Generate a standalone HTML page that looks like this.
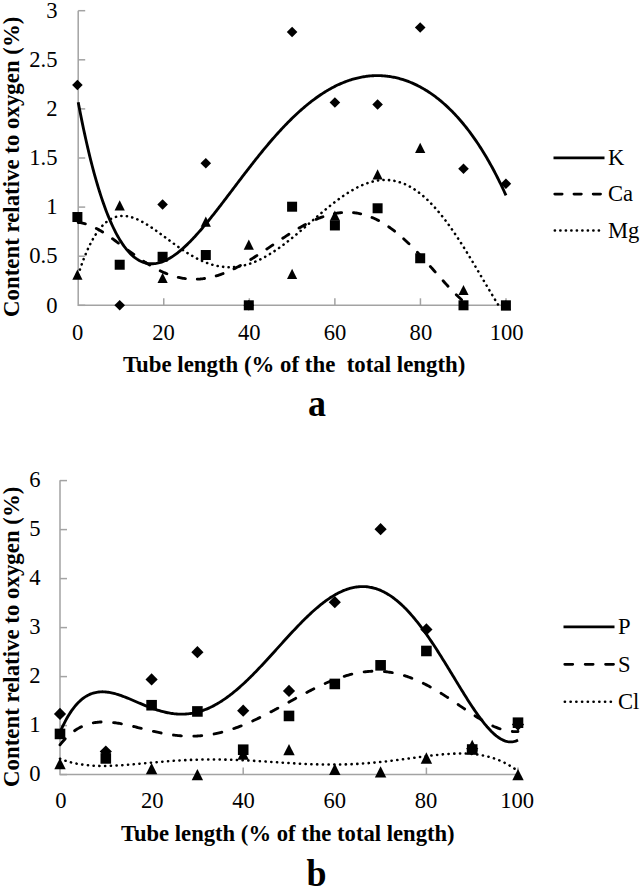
<!DOCTYPE html><html><head><meta charset="utf-8"><style>html,body{margin:0;padding:0;background:#fff;}svg{display:block}</style></head><body><svg width="641" height="888" viewBox="0 0 641 888">
<rect width="641" height="888" fill="#fff"/>
<g stroke="#a3a3a3" stroke-width="1.5" fill="none">
<path d="M78.20,10.70 V305.30 H506.00"/>
<path d="M78.20,305.30 h7"/>
<path d="M78.20,256.20 h7"/>
<path d="M78.20,207.10 h7"/>
<path d="M78.20,158.00 h7"/>
<path d="M78.20,108.90 h7"/>
<path d="M78.20,59.80 h7"/>
<path d="M78.20,10.70 h7"/>
<path d="M163.76,305.30 v-7"/>
<path d="M249.32,305.30 v-7"/>
<path d="M334.88,305.30 v-7"/>
<path d="M420.44,305.30 v-7"/>
<path d="M506.00,305.30 v-7"/>
</g>
<g font-family="Liberation Serif, serif" font-size="22.6" fill="#000">
<text x="57.5" y="312.50" text-anchor="end">0</text>
<text x="57.5" y="263.40" text-anchor="end">0.5</text>
<text x="57.5" y="214.30" text-anchor="end">1</text>
<text x="57.5" y="165.20" text-anchor="end">1.5</text>
<text x="57.5" y="116.10" text-anchor="end">2</text>
<text x="57.5" y="67.00" text-anchor="end">2.5</text>
<text x="57.5" y="17.90" text-anchor="end">3</text>
<text x="77.70" y="340" text-anchor="middle">0</text>
<text x="163.50" y="340" text-anchor="middle">20</text>
<text x="249.30" y="340" text-anchor="middle">40</text>
<text x="335.10" y="340" text-anchor="middle">60</text>
<text x="420.90" y="340" text-anchor="middle">80</text>
<text x="506.70" y="340" text-anchor="middle">100</text>
</g>
<text x="122.9" y="371.8" font-family="Liberation Serif, serif" font-weight="bold" font-size="22.85" style="white-space:pre" xml:space="preserve">Tube length (% of the  total length)</text>
<text transform="translate(19.1,166.8) rotate(-90)" text-anchor="middle" font-family="Liberation Serif, serif" font-weight="bold" font-size="22.85">Content relative to oxygen (%)</text>
<g fill="#000">
<path d="M77.40,79.74 L82.70,85.04 L77.40,90.34 L72.10,85.04Z"/>
<path d="M119.70,300.00 L125.00,305.30 L119.70,310.60 L114.40,305.30Z"/>
<path d="M162.60,199.25 L167.90,204.55 L162.60,209.85 L157.30,204.55Z"/>
<path d="M205.80,157.90 L211.10,163.20 L205.80,168.50 L200.50,163.20Z"/>
<path d="M248.80,300.00 L254.10,305.30 L248.80,310.60 L243.50,305.30Z"/>
<path d="M292.10,26.71 L297.40,32.01 L292.10,37.31 L286.80,32.01Z"/>
<path d="M334.90,97.22 L340.20,102.52 L334.90,107.82 L329.60,102.52Z"/>
<path d="M377.60,99.18 L382.90,104.48 L377.60,109.78 L372.30,104.48Z"/>
<path d="M420.20,22.19 L425.50,27.49 L420.20,32.79 L414.90,27.49Z"/>
<path d="M463.50,163.50 L468.80,168.80 L463.50,174.10 L458.20,168.80Z"/>
<path d="M505.90,178.43 L511.20,183.73 L505.90,189.03 L500.60,183.73Z"/>
<rect x="72.40" y="212.02" width="10.00" height="10.00"/>
<rect x="114.70" y="259.74" width="10.00" height="10.00"/>
<rect x="157.60" y="251.79" width="10.00" height="10.00"/>
<rect x="200.80" y="250.02" width="10.00" height="10.00"/>
<rect x="243.80" y="300.30" width="10.00" height="10.00"/>
<rect x="287.10" y="201.71" width="10.00" height="10.00"/>
<rect x="329.90" y="220.46" width="10.00" height="10.00"/>
<rect x="372.60" y="203.28" width="10.00" height="10.00"/>
<rect x="415.20" y="253.26" width="10.00" height="10.00"/>
<rect x="458.50" y="300.30" width="10.00" height="10.00"/>
<rect x="500.90" y="300.30" width="10.00" height="10.00"/>
<path d="M77.40,269.56 L82.50,279.76 L72.30,279.76Z"/>
<path d="M119.70,200.23 L124.80,210.43 L114.60,210.43Z"/>
<path d="M162.60,272.80 L167.70,283.00 L157.50,283.00Z"/>
<path d="M205.80,216.53 L210.90,226.73 L200.70,226.73Z"/>
<path d="M248.80,239.61 L253.90,249.81 L243.70,249.81Z"/>
<path d="M292.10,268.87 L297.20,279.07 L287.00,279.07Z"/>
<path d="M334.90,210.54 L340.00,220.74 L329.80,220.74Z"/>
<path d="M377.60,169.30 L382.70,179.50 L372.50,179.50Z"/>
<path d="M420.20,142.69 L425.30,152.89 L415.10,152.89Z"/>
<path d="M463.50,284.88 L468.60,295.08 L458.40,295.08Z"/>
<path d="M505.90,300.20 L511.00,310.40 L500.80,310.40Z"/>
</g>
<path d="M78.20,102.23 L79.27,107.82 L80.34,113.29 L81.41,118.63 L82.48,123.85 L83.55,128.95 L84.62,133.92 L85.69,138.78 L86.76,143.52 L87.83,148.14 L88.89,152.65 L89.96,157.04 L91.03,161.33 L92.10,165.50 L93.17,169.57 L94.24,173.52 L95.31,177.38 L96.38,181.12 L97.45,184.77 L98.52,188.31 L99.59,191.75 L100.66,195.10 L101.73,198.34 L102.80,201.49 L103.87,204.55 L104.94,207.51 L106.01,210.38 L107.08,213.16 L108.15,215.85 L109.22,218.46 L110.28,220.97 L111.35,223.40 L112.42,225.75 L113.49,228.01 L114.56,230.19 L115.63,232.29 L116.70,234.31 L117.77,236.25 L118.84,238.12 L119.91,239.91 L120.98,241.62 L122.05,243.26 L123.12,244.83 L124.19,246.33 L125.26,247.75 L126.33,249.11 L127.40,250.40 L128.47,251.63 L129.54,252.79 L130.61,253.88 L131.68,254.91 L132.74,255.88 L133.81,256.79 L134.88,257.63 L135.95,258.42 L137.02,259.15 L138.09,259.82 L139.16,260.43 L140.23,260.99 L141.30,261.50 L142.37,261.95 L143.44,262.35 L144.51,262.70 L145.58,263.00 L146.65,263.25 L147.72,263.45 L148.79,263.60 L149.86,263.70 L150.93,263.76 L152.00,263.78 L153.06,263.75 L154.13,263.68 L155.20,263.56 L156.27,263.40 L157.34,263.21 L158.41,262.97 L159.48,262.70 L160.55,262.38 L161.62,262.03 L162.69,261.64 L163.76,261.22 L164.83,260.76 L165.90,260.27 L166.97,259.74 L168.04,259.18 L169.11,258.59 L170.18,257.97 L171.25,257.32 L172.32,256.64 L173.39,255.93 L174.45,255.19 L175.52,254.42 L176.59,253.63 L177.66,252.81 L178.73,251.96 L179.80,251.09 L180.87,250.20 L181.94,249.28 L183.01,248.34 L184.08,247.38 L185.15,246.39 L186.22,245.39 L187.29,244.36 L188.36,243.32 L189.43,242.25 L190.50,241.17 L191.57,240.07 L192.64,238.95 L193.71,237.82 L194.78,236.67 L195.84,235.50 L196.91,234.32 L197.98,233.12 L199.05,231.91 L200.12,230.69 L201.19,229.45 L202.26,228.20 L203.33,226.94 L204.40,225.67 L205.47,224.39 L206.54,223.09 L207.61,221.79 L208.68,220.48 L209.75,219.15 L210.82,217.82 L211.89,216.48 L212.96,215.14 L214.03,213.78 L215.10,212.42 L216.17,211.06 L217.24,209.68 L218.30,208.31 L219.37,206.92 L220.44,205.54 L221.51,204.14 L222.58,202.75 L223.65,201.35 L224.72,199.95 L225.79,198.54 L226.86,197.13 L227.93,195.72 L229.00,194.31 L230.07,192.90 L231.14,191.49 L232.21,190.07 L233.28,188.66 L234.35,187.25 L235.42,185.83 L236.49,184.42 L237.56,183.01 L238.62,181.60 L239.69,180.19 L240.76,178.78 L241.83,177.38 L242.90,175.98 L243.97,174.58 L245.04,173.19 L246.11,171.79 L247.18,170.40 L248.25,169.02 L249.32,167.64 L250.39,166.26 L251.46,164.89 L252.53,163.53 L253.60,162.17 L254.67,160.81 L255.74,159.46 L256.81,158.12 L257.88,156.78 L258.95,155.45 L260.01,154.12 L261.08,152.81 L262.15,151.49 L263.22,150.19 L264.29,148.89 L265.36,147.60 L266.43,146.32 L267.50,145.05 L268.57,143.78 L269.64,142.53 L270.71,141.28 L271.78,140.04 L272.85,138.81 L273.92,137.59 L274.99,136.37 L276.06,135.17 L277.13,133.98 L278.20,132.79 L279.27,131.62 L280.34,130.45 L281.40,129.30 L282.47,128.15 L283.54,127.02 L284.61,125.89 L285.68,124.78 L286.75,123.67 L287.82,122.58 L288.89,121.50 L289.96,120.43 L291.03,119.37 L292.10,118.32 L293.17,117.28 L294.24,116.26 L295.31,115.24 L296.38,114.24 L297.45,113.25 L298.52,112.27 L299.59,111.30 L300.66,110.34 L301.73,109.40 L302.79,108.47 L303.86,107.55 L304.93,106.64 L306.00,105.74 L307.07,104.86 L308.14,103.99 L309.21,103.13 L310.28,102.29 L311.35,101.45 L312.42,100.63 L313.49,99.82 L314.56,99.03 L315.63,98.25 L316.70,97.48 L317.77,96.72 L318.84,95.98 L319.91,95.24 L320.98,94.53 L322.05,93.82 L323.12,93.13 L324.19,92.45 L325.25,91.78 L326.32,91.13 L327.39,90.49 L328.46,89.87 L329.53,89.25 L330.60,88.65 L331.67,88.07 L332.74,87.49 L333.81,86.93 L334.88,86.39 L335.95,85.85 L337.02,85.33 L338.09,84.83 L339.16,84.34 L340.23,83.86 L341.30,83.39 L342.37,82.94 L343.44,82.50 L344.51,82.07 L345.57,81.66 L346.64,81.26 L347.71,80.88 L348.78,80.51 L349.85,80.15 L350.92,79.80 L351.99,79.47 L353.06,79.16 L354.13,78.85 L355.20,78.56 L356.27,78.29 L357.34,78.02 L358.41,77.77 L359.48,77.54 L360.55,77.32 L361.62,77.11 L362.69,76.91 L363.76,76.73 L364.83,76.56 L365.90,76.41 L366.96,76.27 L368.03,76.14 L369.10,76.03 L370.17,75.93 L371.24,75.85 L372.31,75.78 L373.38,75.72 L374.45,75.67 L375.52,75.64 L376.59,75.63 L377.66,75.62 L378.73,75.63 L379.80,75.66 L380.87,75.70 L381.94,75.75 L383.01,75.82 L384.08,75.90 L385.15,75.99 L386.22,76.10 L387.29,76.22 L388.35,76.36 L389.42,76.50 L390.49,76.67 L391.56,76.85 L392.63,77.04 L393.70,77.24 L394.77,77.46 L395.84,77.70 L396.91,77.94 L397.98,78.21 L399.05,78.48 L400.12,78.77 L401.19,79.08 L402.26,79.40 L403.33,79.73 L404.40,80.08 L405.47,80.44 L406.54,80.82 L407.61,81.21 L408.68,81.62 L409.74,82.04 L410.81,82.48 L411.88,82.93 L412.95,83.39 L414.02,83.87 L415.09,84.37 L416.16,84.88 L417.23,85.40 L418.30,85.94 L419.37,86.50 L420.44,87.07 L421.51,87.66 L422.58,88.26 L423.65,88.88 L424.72,89.51 L425.79,90.16 L426.86,90.83 L427.93,91.51 L429.00,92.20 L430.07,92.92 L431.13,93.65 L432.20,94.39 L433.27,95.16 L434.34,95.93 L435.41,96.73 L436.48,97.54 L437.55,98.37 L438.62,99.22 L439.69,100.08 L440.76,100.97 L441.83,101.86 L442.90,102.78 L443.97,103.71 L445.04,104.67 L446.11,105.64 L447.18,106.63 L448.25,107.63 L449.32,108.66 L450.39,109.70 L451.46,110.77 L452.52,111.85 L453.59,112.95 L454.66,114.07 L455.73,115.21 L456.80,116.37 L457.87,117.55 L458.94,118.75 L460.01,119.97 L461.08,121.22 L462.15,122.48 L463.22,123.76 L464.29,125.07 L465.36,126.39 L466.43,127.74 L467.50,129.11 L468.57,130.50 L469.64,131.92 L470.71,133.36 L471.78,134.82 L472.85,136.30 L473.91,137.81 L474.98,139.34 L476.05,140.89 L477.12,142.47 L478.19,144.08 L479.26,145.70 L480.33,147.36 L481.40,149.04 L482.47,150.74 L483.54,152.47 L484.61,154.23 L485.68,156.02 L486.75,157.83 L487.82,159.67 L488.89,161.53 L489.96,163.43 L491.03,165.35 L492.10,167.30 L493.17,169.28 L494.24,171.29 L495.30,173.33 L496.37,175.40 L497.44,177.50 L498.51,179.63 L499.58,181.80 L500.65,183.99 L501.72,186.22 L502.79,188.48 L503.86,190.77 L504.93,193.10 L506.00,195.46 " fill="none" stroke="#000" stroke-width="2.85"/>
<path d="M78.20,222.47 L79.27,222.56 L80.34,222.70 L81.41,222.87 L82.48,223.07 L83.55,223.31 L84.62,223.59 L85.69,223.89 L86.76,224.22 L87.83,224.59 L88.89,224.98 L89.96,225.40 L91.03,225.84 L92.10,226.31 L93.17,226.80 L94.24,227.32 L95.31,227.86 L96.38,228.42 L97.45,229.00 L98.52,229.60 L99.59,230.21 L100.66,230.84 L101.73,231.49 L102.80,232.16 L103.87,232.84 L104.94,233.53 L106.01,234.23 L107.08,234.95 L108.15,235.68 L109.22,236.41 L110.28,237.16 L111.35,237.92 L112.42,238.68 L113.49,239.45 L114.56,240.22 L115.63,241.01 L116.70,241.79 L117.77,242.58 L118.84,243.37 L119.91,244.17 L120.98,244.97 L122.05,245.77 L123.12,246.57 L124.19,247.37 L125.26,248.17 L126.33,248.97 L127.40,249.76 L128.47,250.56 L129.54,251.35 L130.61,252.14 L131.68,252.92 L132.74,253.70 L133.81,254.47 L134.88,255.24 L135.95,256.01 L137.02,256.76 L138.09,257.51 L139.16,258.25 L140.23,258.99 L141.30,259.72 L142.37,260.43 L143.44,261.14 L144.51,261.84 L145.58,262.53 L146.65,263.21 L147.72,263.88 L148.79,264.54 L149.86,265.18 L150.93,265.82 L152.00,266.44 L153.06,267.05 L154.13,267.65 L155.20,268.23 L156.27,268.81 L157.34,269.37 L158.41,269.91 L159.48,270.44 L160.55,270.96 L161.62,271.46 L162.69,271.95 L163.76,272.43 L164.83,272.89 L165.90,273.33 L166.97,273.76 L168.04,274.18 L169.11,274.57 L170.18,274.96 L171.25,275.32 L172.32,275.67 L173.39,276.01 L174.45,276.33 L175.52,276.63 L176.59,276.92 L177.66,277.19 L178.73,277.44 L179.80,277.68 L180.87,277.90 L181.94,278.10 L183.01,278.29 L184.08,278.46 L185.15,278.61 L186.22,278.75 L187.29,278.87 L188.36,278.97 L189.43,279.06 L190.50,279.13 L191.57,279.18 L192.64,279.22 L193.71,279.24 L194.78,279.24 L195.84,279.23 L196.91,279.19 L197.98,279.15 L199.05,279.08 L200.12,279.01 L201.19,278.91 L202.26,278.80 L203.33,278.67 L204.40,278.53 L205.47,278.37 L206.54,278.19 L207.61,278.00 L208.68,277.80 L209.75,277.57 L210.82,277.34 L211.89,277.09 L212.96,276.82 L214.03,276.54 L215.10,276.24 L216.17,275.93 L217.24,275.61 L218.30,275.27 L219.37,274.92 L220.44,274.55 L221.51,274.17 L222.58,273.78 L223.65,273.37 L224.72,272.96 L225.79,272.52 L226.86,272.08 L227.93,271.62 L229.00,271.16 L230.07,270.68 L231.14,270.19 L232.21,269.69 L233.28,269.17 L234.35,268.65 L235.42,268.11 L236.49,267.57 L237.56,267.01 L238.62,266.45 L239.69,265.88 L240.76,265.29 L241.83,264.70 L242.90,264.10 L243.97,263.49 L245.04,262.87 L246.11,262.25 L247.18,261.62 L248.25,260.98 L249.32,260.33 L250.39,259.68 L251.46,259.02 L252.53,258.35 L253.60,257.68 L254.67,257.00 L255.74,256.32 L256.81,255.63 L257.88,254.94 L258.95,254.24 L260.01,253.54 L261.08,252.84 L262.15,252.13 L263.22,251.42 L264.29,250.71 L265.36,249.99 L266.43,249.28 L267.50,248.56 L268.57,247.84 L269.64,247.12 L270.71,246.39 L271.78,245.67 L272.85,244.95 L273.92,244.23 L274.99,243.50 L276.06,242.78 L277.13,242.06 L278.20,241.34 L279.27,240.63 L280.34,239.91 L281.40,239.20 L282.47,238.49 L283.54,237.78 L284.61,237.08 L285.68,236.38 L286.75,235.68 L287.82,234.99 L288.89,234.31 L289.96,233.63 L291.03,232.95 L292.10,232.28 L293.17,231.62 L294.24,230.96 L295.31,230.31 L296.38,229.66 L297.45,229.02 L298.52,228.39 L299.59,227.77 L300.66,227.16 L301.73,226.55 L302.79,225.96 L303.86,225.37 L304.93,224.79 L306.00,224.22 L307.07,223.66 L308.14,223.11 L309.21,222.58 L310.28,222.05 L311.35,221.53 L312.42,221.03 L313.49,220.53 L314.56,220.05 L315.63,219.58 L316.70,219.13 L317.77,218.68 L318.84,218.25 L319.91,217.83 L320.98,217.43 L322.05,217.04 L323.12,216.66 L324.19,216.30 L325.25,215.95 L326.32,215.62 L327.39,215.30 L328.46,214.99 L329.53,214.70 L330.60,214.43 L331.67,214.17 L332.74,213.93 L333.81,213.71 L334.88,213.50 L335.95,213.31 L337.02,213.13 L338.09,212.97 L339.16,212.83 L340.23,212.71 L341.30,212.60 L342.37,212.51 L343.44,212.44 L344.51,212.38 L345.57,212.35 L346.64,212.33 L347.71,212.33 L348.78,212.35 L349.85,212.39 L350.92,212.44 L351.99,212.52 L353.06,212.61 L354.13,212.72 L355.20,212.86 L356.27,213.01 L357.34,213.18 L358.41,213.37 L359.48,213.58 L360.55,213.80 L361.62,214.05 L362.69,214.32 L363.76,214.61 L364.83,214.91 L365.90,215.24 L366.96,215.58 L368.03,215.95 L369.10,216.33 L370.17,216.74 L371.24,217.16 L372.31,217.60 L373.38,218.06 L374.45,218.55 L375.52,219.05 L376.59,219.57 L377.66,220.11 L378.73,220.67 L379.80,221.25 L380.87,221.84 L381.94,222.46 L383.01,223.09 L384.08,223.75 L385.15,224.42 L386.22,225.11 L387.29,225.82 L388.35,226.54 L389.42,227.29 L390.49,228.05 L391.56,228.83 L392.63,229.63 L393.70,230.44 L394.77,231.27 L395.84,232.12 L396.91,232.98 L397.98,233.86 L399.05,234.76 L400.12,235.67 L401.19,236.60 L402.26,237.54 L403.33,238.50 L404.40,239.47 L405.47,240.46 L406.54,241.46 L407.61,242.47 L408.68,243.50 L409.74,244.54 L410.81,245.59 L411.88,246.65 L412.95,247.73 L414.02,248.82 L415.09,249.91 L416.16,251.02 L417.23,252.14 L418.30,253.27 L419.37,254.40 L420.44,255.55 L421.51,256.70 L422.58,257.86 L423.65,259.03 L424.72,260.20 L425.79,261.38 L426.86,262.57 L427.93,263.76 L429.00,264.95 L430.07,266.15 L431.13,267.35 L432.20,268.56 L433.27,269.76 L434.34,270.97 L435.41,272.17 L436.48,273.38 L437.55,274.59 L438.62,275.79 L439.69,276.99 L440.76,278.19 L441.83,279.39 L442.90,280.58 L443.97,281.76 L445.04,282.94 L446.11,284.11 L447.18,285.28 L448.25,286.43 L449.32,287.58 L450.39,288.72 L451.46,289.84 L452.52,290.95 L453.59,292.05 L454.66,293.14 L455.73,294.21 L456.80,295.27 L457.87,296.31 L458.94,297.33 L460.01,298.33 L461.08,299.32 L462.15,300.28 L463.22,301.22 L464.29,302.14 L465.36,303.04 L466.43,303.91 L467.50,304.75 L468.22,305.30 " fill="none" stroke="#000" stroke-width="2.85" stroke-dasharray="7.3 11.9" stroke-linecap="round"/>
<path d="M78.20,274.86 L79.27,271.53 L80.34,268.33 L81.41,265.25 L82.48,262.28 L83.55,259.43 L84.62,256.70 L85.69,254.07 L86.76,251.55 L87.83,249.14 L88.89,246.84 L89.96,244.63 L91.03,242.52 L92.10,240.52 L93.17,238.60 L94.24,236.78 L95.31,235.06 L96.38,233.42 L97.45,231.87 L98.52,230.40 L99.59,229.01 L100.66,227.71 L101.73,226.49 L102.80,225.34 L103.87,224.27 L104.94,223.28 L106.01,222.35 L107.08,221.50 L108.15,220.71 L109.22,219.99 L110.28,219.33 L111.35,218.74 L112.42,218.21 L113.49,217.74 L114.56,217.32 L115.63,216.96 L116.70,216.66 L117.77,216.41 L118.84,216.21 L119.91,216.06 L120.98,215.96 L122.05,215.91 L123.12,215.90 L124.19,215.93 L125.26,216.01 L126.33,216.13 L127.40,216.28 L128.47,216.48 L129.54,216.71 L130.61,216.98 L131.68,217.28 L132.74,217.61 L133.81,217.98 L134.88,218.37 L135.95,218.80 L137.02,219.25 L138.09,219.73 L139.16,220.23 L140.23,220.76 L141.30,221.31 L142.37,221.88 L143.44,222.48 L144.51,223.09 L145.58,223.72 L146.65,224.37 L147.72,225.03 L148.79,225.71 L149.86,226.40 L150.93,227.11 L152.00,227.83 L153.06,228.56 L154.13,229.30 L155.20,230.05 L156.27,230.81 L157.34,231.57 L158.41,232.34 L159.48,233.12 L160.55,233.91 L161.62,234.69 L162.69,235.48 L163.76,236.28 L164.83,237.07 L165.90,237.87 L166.97,238.66 L168.04,239.46 L169.11,240.25 L170.18,241.04 L171.25,241.83 L172.32,242.62 L173.39,243.40 L174.45,244.18 L175.52,244.95 L176.59,245.72 L177.66,246.48 L178.73,247.23 L179.80,247.98 L180.87,248.71 L181.94,249.44 L183.01,250.16 L184.08,250.87 L185.15,251.57 L186.22,252.26 L187.29,252.94 L188.36,253.60 L189.43,254.26 L190.50,254.90 L191.57,255.53 L192.64,256.15 L193.71,256.75 L194.78,257.34 L195.84,257.91 L196.91,258.47 L197.98,259.01 L199.05,259.54 L200.12,260.05 L201.19,260.55 L202.26,261.03 L203.33,261.50 L204.40,261.94 L205.47,262.37 L206.54,262.79 L207.61,263.18 L208.68,263.56 L209.75,263.92 L210.82,264.27 L211.89,264.59 L212.96,264.90 L214.03,265.18 L215.10,265.45 L216.17,265.70 L217.24,265.93 L218.30,266.14 L219.37,266.34 L220.44,266.51 L221.51,266.66 L222.58,266.80 L223.65,266.91 L224.72,267.01 L225.79,267.09 L226.86,267.14 L227.93,267.18 L229.00,267.20 L230.07,267.20 L231.14,267.17 L232.21,267.13 L233.28,267.07 L234.35,266.99 L235.42,266.89 L236.49,266.78 L237.56,266.64 L238.62,266.48 L239.69,266.30 L240.76,266.11 L241.83,265.89 L242.90,265.66 L243.97,265.41 L245.04,265.14 L246.11,264.85 L247.18,264.54 L248.25,264.22 L249.32,263.87 L250.39,263.51 L251.46,263.13 L252.53,262.74 L253.60,262.32 L254.67,261.89 L255.74,261.45 L256.81,260.98 L257.88,260.50 L258.95,260.00 L260.01,259.49 L261.08,258.96 L262.15,258.41 L263.22,257.85 L264.29,257.28 L265.36,256.69 L266.43,256.08 L267.50,255.46 L268.57,254.83 L269.64,254.18 L270.71,253.52 L271.78,252.85 L272.85,252.16 L273.92,251.46 L274.99,250.75 L276.06,250.03 L277.13,249.29 L278.20,248.54 L279.27,247.78 L280.34,247.02 L281.40,246.24 L282.47,245.45 L283.54,244.65 L284.61,243.84 L285.68,243.02 L286.75,242.19 L287.82,241.36 L288.89,240.51 L289.96,239.66 L291.03,238.80 L292.10,237.94 L293.17,237.07 L294.24,236.19 L295.31,235.31 L296.38,234.42 L297.45,233.52 L298.52,232.62 L299.59,231.72 L300.66,230.81 L301.73,229.90 L302.79,228.99 L303.86,228.07 L304.93,227.15 L306.00,226.23 L307.07,225.30 L308.14,224.38 L309.21,223.45 L310.28,222.53 L311.35,221.60 L312.42,220.68 L313.49,219.75 L314.56,218.83 L315.63,217.91 L316.70,216.99 L317.77,216.07 L318.84,215.16 L319.91,214.25 L320.98,213.34 L322.05,212.43 L323.12,211.53 L324.19,210.64 L325.25,209.75 L326.32,208.87 L327.39,207.99 L328.46,207.12 L329.53,206.25 L330.60,205.40 L331.67,204.55 L332.74,203.71 L333.81,202.87 L334.88,202.05 L335.95,201.23 L337.02,200.43 L338.09,199.63 L339.16,198.85 L340.23,198.07 L341.30,197.31 L342.37,196.56 L343.44,195.82 L344.51,195.09 L345.57,194.38 L346.64,193.67 L347.71,192.99 L348.78,192.31 L349.85,191.65 L350.92,191.01 L351.99,190.37 L353.06,189.76 L354.13,189.16 L355.20,188.57 L356.27,188.01 L357.34,187.45 L358.41,186.92 L359.48,186.40 L360.55,185.90 L361.62,185.42 L362.69,184.96 L363.76,184.51 L364.83,184.09 L365.90,183.68 L366.96,183.29 L368.03,182.93 L369.10,182.58 L370.17,182.25 L371.24,181.95 L372.31,181.66 L373.38,181.40 L374.45,181.15 L375.52,180.93 L376.59,180.73 L377.66,180.56 L378.73,180.40 L379.80,180.27 L380.87,180.16 L381.94,180.08 L383.01,180.02 L384.08,179.98 L385.15,179.96 L386.22,179.97 L387.29,180.01 L388.35,180.06 L389.42,180.15 L390.49,180.25 L391.56,180.39 L392.63,180.54 L393.70,180.73 L394.77,180.93 L395.84,181.17 L396.91,181.43 L397.98,181.71 L399.05,182.02 L400.12,182.36 L401.19,182.72 L402.26,183.11 L403.33,183.53 L404.40,183.97 L405.47,184.43 L406.54,184.93 L407.61,185.45 L408.68,185.99 L409.74,186.57 L410.81,187.17 L411.88,187.79 L412.95,188.45 L414.02,189.13 L415.09,189.83 L416.16,190.56 L417.23,191.32 L418.30,192.11 L419.37,192.92 L420.44,193.75 L421.51,194.62 L422.58,195.51 L423.65,196.42 L424.72,197.36 L425.79,198.33 L426.86,199.32 L427.93,200.34 L429.00,201.38 L430.07,202.45 L431.13,203.54 L432.20,204.66 L433.27,205.80 L434.34,206.97 L435.41,208.16 L436.48,209.37 L437.55,210.61 L438.62,211.87 L439.69,213.15 L440.76,214.46 L441.83,215.79 L442.90,217.14 L443.97,218.51 L445.04,219.91 L446.11,221.32 L447.18,222.76 L448.25,224.21 L449.32,225.69 L450.39,227.18 L451.46,228.70 L452.52,230.23 L453.59,231.78 L454.66,233.35 L455.73,234.94 L456.80,236.54 L457.87,238.16 L458.94,239.80 L460.01,241.45 L461.08,243.11 L462.15,244.79 L463.22,246.48 L464.29,248.19 L465.36,249.91 L466.43,251.64 L467.50,253.38 L468.57,255.13 L469.64,256.89 L470.71,258.66 L471.78,260.44 L472.85,262.23 L473.91,264.02 L474.98,265.82 L476.05,267.63 L477.12,269.44 L478.19,271.25 L479.26,273.07 L480.33,274.89 L481.40,276.71 L482.47,278.53 L483.54,280.35 L484.61,282.17 L485.68,283.99 L486.75,285.80 L487.82,287.61 L488.89,289.42 L489.96,291.22 L491.03,293.01 L492.10,294.80 L493.17,296.57 L494.24,298.34 L495.30,300.09 L496.37,301.84 L497.44,303.57 L498.51,305.28 L498.53,305.30 " fill="none" stroke="#000" stroke-width="2.55" stroke-dasharray="0.2 5.3" stroke-linecap="round"/>
<path d="M553.5,157.80 H604.5" stroke="#000" stroke-width="2.85"/>
<text x="608" y="165.00" font-family="Liberation Serif, serif" font-size="22.6">K</text>
<path d="M554.8,194.10 H604.5" stroke="#000" stroke-width="2.85" stroke-dasharray="7.3 11.9" stroke-linecap="round"/>
<text x="608" y="201.30" font-family="Liberation Serif, serif" font-size="22.6">Ca</text>
<path d="M554.8,230.40 H601.5" stroke="#000" stroke-width="2.55" stroke-dasharray="0.2 5.3" stroke-linecap="round"/>
<text x="608" y="237.60" font-family="Liberation Serif, serif" font-size="22.6">Mg</text>
<g stroke="#a3a3a3" stroke-width="1.5" fill="none">
<path d="M60.00,480.30 V774.60 H518.00"/>
<path d="M60.00,774.60 h7"/>
<path d="M60.00,725.60 h7"/>
<path d="M60.00,676.60 h7"/>
<path d="M60.00,627.60 h7"/>
<path d="M60.00,578.60 h7"/>
<path d="M60.00,529.60 h7"/>
<path d="M60.00,480.60 h7"/>
<path d="M151.60,774.60 v-7"/>
<path d="M243.20,774.60 v-7"/>
<path d="M334.80,774.60 v-7"/>
<path d="M426.40,774.60 v-7"/>
<path d="M518.00,774.60 v-7"/>
</g>
<g font-family="Liberation Serif, serif" font-size="22.6" fill="#000">
<text x="40.5" y="781.30" text-anchor="end">0</text>
<text x="40.5" y="732.30" text-anchor="end">1</text>
<text x="40.5" y="683.30" text-anchor="end">2</text>
<text x="40.5" y="634.30" text-anchor="end">3</text>
<text x="40.5" y="585.30" text-anchor="end">4</text>
<text x="40.5" y="536.30" text-anchor="end">5</text>
<text x="40.5" y="487.30" text-anchor="end">6</text>
<text x="61.00" y="808" text-anchor="middle">0</text>
<text x="152.24" y="808" text-anchor="middle">20</text>
<text x="243.48" y="808" text-anchor="middle">40</text>
<text x="334.72" y="808" text-anchor="middle">60</text>
<text x="425.96" y="808" text-anchor="middle">80</text>
<text x="517.20" y="808" text-anchor="middle">100</text>
</g>
<text x="120.9" y="840.6" font-family="Liberation Serif, serif" font-weight="bold" font-size="22.65" style="white-space:pre" xml:space="preserve">Tube length (% of the total length)</text>
<text transform="translate(19.1,636.8) rotate(-90)" text-anchor="middle" font-family="Liberation Serif, serif" font-weight="bold" font-size="22.85">Content relative to oxygen (%)</text>
<g fill="#000">
<path d="M60.00,707.84 L66.10,713.94 L60.00,720.04 L53.90,713.94Z"/>
<path d="M105.80,745.47 L111.90,751.57 L105.80,757.67 L99.70,751.57Z"/>
<path d="M151.60,673.34 L157.70,679.44 L151.60,685.54 L145.50,679.44Z"/>
<path d="M197.40,646.10 L203.50,652.20 L197.40,658.30 L191.30,652.20Z"/>
<path d="M243.20,704.60 L249.30,710.70 L243.20,716.80 L237.10,710.70Z"/>
<path d="M289.00,684.86 L295.10,690.96 L289.00,697.06 L282.90,690.96Z"/>
<path d="M334.80,596.12 L340.90,602.22 L334.80,608.32 L328.70,602.22Z"/>
<path d="M380.60,523.11 L386.70,529.21 L380.60,535.31 L374.50,529.21Z"/>
<path d="M426.40,623.31 L432.50,629.41 L426.40,635.51 L420.30,629.41Z"/>
<path d="M472.20,742.53 L478.30,748.63 L472.20,754.73 L466.10,748.63Z"/>
<path d="M518.00,718.52 L524.10,724.62 L518.00,730.72 L511.90,724.62Z"/>
<rect x="54.70" y="728.63" width="10.60" height="10.60"/>
<rect x="100.50" y="753.13" width="10.60" height="10.60"/>
<rect x="146.30" y="699.92" width="10.60" height="10.60"/>
<rect x="192.10" y="706.14" width="10.60" height="10.60"/>
<rect x="237.90" y="744.41" width="10.60" height="10.60"/>
<rect x="283.70" y="710.65" width="10.60" height="10.60"/>
<rect x="329.50" y="678.65" width="10.60" height="10.60"/>
<rect x="375.30" y="660.03" width="10.60" height="10.60"/>
<rect x="421.10" y="645.67" width="10.60" height="10.60"/>
<rect x="466.90" y="744.21" width="10.60" height="10.60"/>
<rect x="512.70" y="717.41" width="10.60" height="10.60"/>
<path d="M60.00,757.88 L65.70,769.28 L54.30,769.28Z"/>
<path d="M151.60,762.92 L157.30,774.32 L145.90,774.32Z"/>
<path d="M197.40,768.90 L203.10,780.30 L191.70,780.30Z"/>
<path d="M243.20,748.47 L248.90,759.87 L237.50,759.87Z"/>
<path d="M289.00,743.91 L294.70,755.31 L283.30,755.31Z"/>
<path d="M334.80,763.61 L340.50,775.01 L329.10,775.01Z"/>
<path d="M380.60,766.20 L386.30,777.61 L374.90,777.61Z"/>
<path d="M426.40,752.29 L432.10,763.69 L420.70,763.69Z"/>
<path d="M472.20,739.79 L477.90,751.19 L466.50,751.19Z"/>
<path d="M518.00,768.90 L523.70,780.30 L512.30,780.30Z"/>
</g>
<path d="M60.00,732.31 L61.15,729.70 L62.29,727.20 L63.44,724.81 L64.58,722.52 L65.72,720.35 L66.87,718.27 L68.02,716.29 L69.16,714.41 L70.31,712.62 L71.45,710.92 L72.59,709.31 L73.74,707.79 L74.89,706.35 L76.03,705.00 L77.17,703.72 L78.32,702.53 L79.47,701.41 L80.61,700.36 L81.75,699.38 L82.90,698.48 L84.05,697.64 L85.19,696.86 L86.34,696.15 L87.48,695.51 L88.62,694.92 L89.77,694.38 L90.91,693.91 L92.06,693.48 L93.20,693.11 L94.35,692.79 L95.50,692.52 L96.64,692.29 L97.78,692.11 L98.93,691.98 L100.08,691.88 L101.22,691.82 L102.37,691.80 L103.51,691.82 L104.66,691.87 L105.80,691.96 L106.94,692.08 L108.09,692.23 L109.23,692.41 L110.38,692.61 L111.53,692.84 L112.67,693.10 L113.81,693.38 L114.96,693.68 L116.11,694.00 L117.25,694.34 L118.40,694.70 L119.54,695.08 L120.69,695.47 L121.83,695.88 L122.97,696.30 L124.12,696.73 L125.27,697.17 L126.41,697.62 L127.56,698.08 L128.70,698.55 L129.84,699.03 L130.99,699.51 L132.13,699.99 L133.28,700.48 L134.43,700.97 L135.57,701.46 L136.72,701.96 L137.86,702.45 L139.00,702.94 L140.15,703.43 L141.30,703.92 L142.44,704.40 L143.59,704.88 L144.73,705.36 L145.88,705.83 L147.02,706.29 L148.17,706.74 L149.31,707.19 L150.45,707.63 L151.60,708.06 L152.75,708.48 L153.89,708.88 L155.03,709.28 L156.18,709.66 L157.32,710.04 L158.47,710.40 L159.62,710.74 L160.76,711.07 L161.91,711.39 L163.05,711.69 L164.19,711.98 L165.34,712.25 L166.49,712.51 L167.63,712.75 L168.78,712.97 L169.92,713.17 L171.06,713.36 L172.21,713.53 L173.36,713.68 L174.50,713.81 L175.64,713.92 L176.79,714.01 L177.94,714.08 L179.08,714.14 L180.23,714.17 L181.37,714.18 L182.51,714.17 L183.66,714.14 L184.81,714.09 L185.95,714.02 L187.09,713.93 L188.24,713.82 L189.38,713.68 L190.53,713.53 L191.68,713.35 L192.82,713.15 L193.97,712.93 L195.11,712.69 L196.25,712.42 L197.40,712.14 L198.55,711.83 L199.69,711.50 L200.84,711.15 L201.98,710.78 L203.12,710.38 L204.27,709.96 L205.41,709.52 L206.56,709.06 L207.71,708.58 L208.85,708.08 L210.00,707.56 L211.14,707.01 L212.28,706.45 L213.43,705.86 L214.57,705.25 L215.72,704.62 L216.87,703.97 L218.01,703.31 L219.16,702.62 L220.30,701.91 L221.44,701.18 L222.59,700.43 L223.74,699.67 L224.88,698.88 L226.03,698.08 L227.17,697.25 L228.31,696.41 L229.46,695.56 L230.60,694.68 L231.75,693.79 L232.90,692.88 L234.04,691.95 L235.19,691.01 L236.33,690.05 L237.47,689.08 L238.62,688.09 L239.77,687.08 L240.91,686.06 L242.06,685.03 L243.20,683.98 L244.34,682.92 L245.49,681.85 L246.63,680.76 L247.78,679.66 L248.93,678.55 L250.07,677.43 L251.22,676.29 L252.36,675.15 L253.50,673.99 L254.65,672.83 L255.80,671.65 L256.94,670.47 L258.09,669.28 L259.23,668.08 L260.38,666.87 L261.52,665.66 L262.66,664.43 L263.81,663.21 L264.96,661.97 L266.10,660.73 L267.25,659.49 L268.39,658.24 L269.53,656.99 L270.68,655.73 L271.83,654.47 L272.97,653.21 L274.12,651.95 L275.26,650.68 L276.40,649.41 L277.55,648.15 L278.69,646.88 L279.84,645.61 L280.99,644.35 L282.13,643.08 L283.27,641.82 L284.42,640.56 L285.56,639.30 L286.71,638.05 L287.86,636.80 L289.00,635.55 L290.14,634.31 L291.29,633.07 L292.44,631.84 L293.58,630.62 L294.73,629.40 L295.87,628.19 L297.01,626.99 L298.16,625.80 L299.31,624.62 L300.45,623.44 L301.60,622.28 L302.74,621.12 L303.88,619.98 L305.03,618.85 L306.18,617.73 L307.32,616.62 L308.47,615.53 L309.61,614.45 L310.75,613.38 L311.90,612.32 L313.05,611.29 L314.19,610.26 L315.34,609.26 L316.48,608.26 L317.62,607.29 L318.77,606.33 L319.92,605.39 L321.06,604.47 L322.20,603.56 L323.35,602.68 L324.50,601.81 L325.64,600.97 L326.79,600.14 L327.93,599.34 L329.07,598.55 L330.22,597.79 L331.37,597.05 L332.51,596.33 L333.66,595.63 L334.80,594.96 L335.94,594.31 L337.09,593.68 L338.24,593.08 L339.38,592.50 L340.52,591.95 L341.67,591.42 L342.81,590.92 L343.96,590.44 L345.11,589.99 L346.25,589.57 L347.39,589.17 L348.54,588.80 L349.69,588.46 L350.83,588.15 L351.98,587.86 L353.12,587.60 L354.26,587.37 L355.41,587.17 L356.56,587.00 L357.70,586.86 L358.85,586.74 L359.99,586.66 L361.13,586.61 L362.28,586.58 L363.43,586.59 L364.57,586.63 L365.72,586.69 L366.86,586.79 L368.00,586.92 L369.15,587.08 L370.30,587.28 L371.44,587.50 L372.58,587.75 L373.73,588.04 L374.88,588.36 L376.02,588.71 L377.17,589.09 L378.31,589.50 L379.45,589.95 L380.60,590.43 L381.75,590.94 L382.89,591.48 L384.04,592.05 L385.18,592.65 L386.32,593.29 L387.47,593.96 L388.62,594.66 L389.76,595.39 L390.91,596.15 L392.05,596.95 L393.19,597.77 L394.34,598.63 L395.49,599.52 L396.63,600.44 L397.77,601.38 L398.92,602.36 L400.06,603.37 L401.21,604.41 L402.36,605.48 L403.50,606.58 L404.64,607.71 L405.79,608.87 L406.94,610.05 L408.08,611.27 L409.23,612.51 L410.37,613.78 L411.51,615.08 L412.66,616.40 L413.81,617.75 L414.95,619.13 L416.10,620.54 L417.24,621.96 L418.38,623.42 L419.53,624.89 L420.68,626.39 L421.82,627.92 L422.97,629.47 L424.11,631.03 L425.25,632.63 L426.40,634.24 L427.55,635.87 L428.69,637.52 L429.83,639.19 L430.98,640.88 L432.12,642.59 L433.27,644.31 L434.42,646.05 L435.56,647.81 L436.70,649.58 L437.85,651.37 L439.00,653.17 L440.14,654.98 L441.29,656.80 L442.43,658.63 L443.57,660.48 L444.72,662.33 L445.87,664.19 L447.01,666.05 L448.16,667.93 L449.30,669.80 L450.44,671.69 L451.59,673.57 L452.74,675.46 L453.88,677.35 L455.03,679.23 L456.17,681.12 L457.31,683.00 L458.46,684.88 L459.61,686.76 L460.75,688.63 L461.89,690.49 L463.04,692.34 L464.19,694.19 L465.33,696.02 L466.48,697.84 L467.62,699.64 L468.76,701.43 L469.91,703.21 L471.06,704.96 L472.20,706.70 L473.35,708.41 L474.49,710.10 L475.63,711.77 L476.78,713.41 L477.93,715.03 L479.07,716.61 L480.22,718.17 L481.36,719.69 L482.50,721.18 L483.65,722.64 L484.80,724.05 L485.94,725.43 L487.08,726.77 L488.23,728.06 L489.38,729.31 L490.52,730.51 L491.67,731.67 L492.81,732.77 L493.95,733.83 L495.10,734.82 L496.25,735.77 L497.39,736.65 L498.54,737.47 L499.68,738.23 L500.82,738.93 L501.97,739.56 L503.12,740.12 L504.26,740.61 L505.41,741.03 L506.55,741.37 L507.69,741.63 L508.84,741.81 L509.99,741.91 L511.13,741.93 L512.28,741.85 L513.42,741.69 L514.57,741.44 L515.71,741.09 L516.86,740.64 L518.00,740.09 " fill="none" stroke="#000" stroke-width="2.85"/>
<path d="M60.00,744.83 L61.15,743.41 L62.29,742.05 L63.44,740.74 L64.58,739.49 L65.72,738.29 L66.87,737.15 L68.02,736.06 L69.16,735.02 L70.31,734.03 L71.45,733.08 L72.59,732.19 L73.74,731.34 L74.89,730.53 L76.03,729.77 L77.17,729.05 L78.32,728.38 L79.47,727.74 L80.61,727.14 L81.75,726.59 L82.90,726.06 L84.05,725.58 L85.19,725.13 L86.34,724.71 L87.48,724.33 L88.62,723.98 L89.77,723.66 L90.91,723.37 L92.06,723.11 L93.20,722.88 L94.35,722.68 L95.50,722.50 L96.64,722.35 L97.78,722.22 L98.93,722.12 L100.08,722.04 L101.22,721.98 L102.37,721.95 L103.51,721.93 L104.66,721.94 L105.80,721.96 L106.94,722.00 L108.09,722.06 L109.23,722.14 L110.38,722.23 L111.53,722.34 L112.67,722.46 L113.81,722.60 L114.96,722.75 L116.11,722.91 L117.25,723.08 L118.40,723.27 L119.54,723.46 L120.69,723.67 L121.83,723.88 L122.97,724.11 L124.12,724.34 L125.27,724.58 L126.41,724.82 L127.56,725.07 L128.70,725.33 L129.84,725.59 L130.99,725.86 L132.13,726.13 L133.28,726.41 L134.43,726.69 L135.57,726.97 L136.72,727.25 L137.86,727.53 L139.00,727.82 L140.15,728.11 L141.30,728.39 L142.44,728.68 L143.59,728.97 L144.73,729.25 L145.88,729.53 L147.02,729.82 L148.17,730.10 L149.31,730.37 L150.45,730.65 L151.60,730.92 L152.75,731.18 L153.89,731.45 L155.03,731.71 L156.18,731.96 L157.32,732.21 L158.47,732.45 L159.62,732.69 L160.76,732.93 L161.91,733.15 L163.05,733.37 L164.19,733.59 L165.34,733.79 L166.49,733.99 L167.63,734.18 L168.78,734.37 L169.92,734.54 L171.06,734.71 L172.21,734.87 L173.36,735.03 L174.50,735.17 L175.64,735.30 L176.79,735.43 L177.94,735.55 L179.08,735.65 L180.23,735.75 L181.37,735.84 L182.51,735.92 L183.66,735.99 L184.81,736.04 L185.95,736.09 L187.09,736.13 L188.24,736.16 L189.38,736.18 L190.53,736.18 L191.68,736.18 L192.82,736.17 L193.97,736.14 L195.11,736.11 L196.25,736.06 L197.40,736.00 L198.55,735.94 L199.69,735.86 L200.84,735.77 L201.98,735.67 L203.12,735.56 L204.27,735.44 L205.41,735.30 L206.56,735.16 L207.71,735.00 L208.85,734.84 L210.00,734.66 L211.14,734.47 L212.28,734.27 L213.43,734.06 L214.57,733.84 L215.72,733.61 L216.87,733.37 L218.01,733.12 L219.16,732.86 L220.30,732.58 L221.44,732.30 L222.59,732.01 L223.74,731.70 L224.88,731.39 L226.03,731.06 L227.17,730.73 L228.31,730.39 L229.46,730.03 L230.60,729.67 L231.75,729.29 L232.90,728.91 L234.04,728.52 L235.19,728.12 L236.33,727.71 L237.47,727.29 L238.62,726.86 L239.77,726.43 L240.91,725.98 L242.06,725.53 L243.20,725.07 L244.34,724.60 L245.49,724.12 L246.63,723.64 L247.78,723.15 L248.93,722.65 L250.07,722.14 L251.22,721.63 L252.36,721.11 L253.50,720.58 L254.65,720.05 L255.80,719.51 L256.94,718.96 L258.09,718.41 L259.23,717.85 L260.38,717.29 L261.52,716.72 L262.66,716.15 L263.81,715.57 L264.96,714.99 L266.10,714.40 L267.25,713.81 L268.39,713.21 L269.53,712.61 L270.68,712.01 L271.83,711.40 L272.97,710.79 L274.12,710.18 L275.26,709.57 L276.40,708.95 L277.55,708.33 L278.69,707.71 L279.84,707.08 L280.99,706.46 L282.13,705.83 L283.27,705.20 L284.42,704.57 L285.56,703.94 L286.71,703.31 L287.86,702.68 L289.00,702.05 L290.14,701.42 L291.29,700.79 L292.44,700.16 L293.58,699.54 L294.73,698.91 L295.87,698.28 L297.01,697.66 L298.16,697.04 L299.31,696.42 L300.45,695.80 L301.60,695.19 L302.74,694.58 L303.88,693.97 L305.03,693.36 L306.18,692.76 L307.32,692.16 L308.47,691.57 L309.61,690.98 L310.75,690.39 L311.90,689.81 L313.05,689.24 L314.19,688.67 L315.34,688.10 L316.48,687.54 L317.62,686.99 L318.77,686.44 L319.92,685.90 L321.06,685.36 L322.20,684.84 L323.35,684.32 L324.50,683.80 L325.64,683.30 L326.79,682.80 L327.93,682.31 L329.07,681.82 L330.22,681.35 L331.37,680.88 L332.51,680.43 L333.66,679.98 L334.80,679.54 L335.94,679.11 L337.09,678.69 L338.24,678.27 L339.38,677.87 L340.52,677.48 L341.67,677.10 L342.81,676.73 L343.96,676.37 L345.11,676.02 L346.25,675.68 L347.39,675.35 L348.54,675.04 L349.69,674.73 L350.83,674.44 L351.98,674.16 L353.12,673.89 L354.26,673.63 L355.41,673.38 L356.56,673.15 L357.70,672.93 L358.85,672.72 L359.99,672.53 L361.13,672.34 L362.28,672.17 L363.43,672.02 L364.57,671.87 L365.72,671.74 L366.86,671.63 L368.00,671.52 L369.15,671.43 L370.30,671.36 L371.44,671.29 L372.58,671.24 L373.73,671.21 L374.88,671.19 L376.02,671.18 L377.17,671.19 L378.31,671.21 L379.45,671.25 L380.60,671.30 L381.75,671.36 L382.89,671.44 L384.04,671.54 L385.18,671.64 L386.32,671.77 L387.47,671.90 L388.62,672.05 L389.76,672.22 L390.91,672.40 L392.05,672.60 L393.19,672.80 L394.34,673.03 L395.49,673.27 L396.63,673.52 L397.77,673.79 L398.92,674.07 L400.06,674.36 L401.21,674.67 L402.36,674.99 L403.50,675.33 L404.64,675.68 L405.79,676.05 L406.94,676.43 L408.08,676.82 L409.23,677.23 L410.37,677.65 L411.51,678.08 L412.66,678.53 L413.81,678.99 L414.95,679.46 L416.10,679.94 L417.24,680.44 L418.38,680.95 L419.53,681.47 L420.68,682.01 L421.82,682.56 L422.97,683.11 L424.11,683.68 L425.25,684.27 L426.40,684.86 L427.55,685.46 L428.69,686.07 L429.83,686.70 L430.98,687.33 L432.12,687.98 L433.27,688.63 L434.42,689.29 L435.56,689.97 L436.70,690.65 L437.85,691.34 L439.00,692.03 L440.14,692.74 L441.29,693.45 L442.43,694.17 L443.57,694.90 L444.72,695.63 L445.87,696.37 L447.01,697.11 L448.16,697.86 L449.30,698.62 L450.44,699.38 L451.59,700.14 L452.74,700.91 L453.88,701.67 L455.03,702.45 L456.17,703.22 L457.31,704.00 L458.46,704.78 L459.61,705.56 L460.75,706.33 L461.89,707.11 L463.04,707.89 L464.19,708.67 L465.33,709.44 L466.48,710.22 L467.62,710.99 L468.76,711.75 L469.91,712.52 L471.06,713.27 L472.20,714.03 L473.35,714.77 L474.49,715.51 L475.63,716.25 L476.78,716.97 L477.93,717.69 L479.07,718.40 L480.22,719.10 L481.36,719.78 L482.50,720.46 L483.65,721.12 L484.80,721.78 L485.94,722.42 L487.08,723.04 L488.23,723.65 L489.38,724.24 L490.52,724.82 L491.67,725.38 L492.81,725.92 L493.95,726.45 L495.10,726.95 L496.25,727.43 L497.39,727.89 L498.54,728.33 L499.68,728.75 L500.82,729.14 L501.97,729.51 L503.12,729.85 L504.26,730.16 L505.41,730.45 L506.55,730.70 L507.69,730.93 L508.84,731.13 L509.99,731.29 L511.13,731.42 L512.28,731.52 L513.42,731.58 L514.57,731.61 L515.71,731.60 L516.86,731.55 L518.00,731.46 " fill="none" stroke="#000" stroke-width="2.85" stroke-dasharray="7.9 12.5" stroke-linecap="round"/>
<path d="M60.00,758.73 L61.15,759.19 L62.29,759.62 L63.44,760.03 L64.58,760.43 L65.72,760.81 L66.87,761.17 L68.02,761.52 L69.16,761.85 L70.31,762.16 L71.45,762.46 L72.59,762.74 L73.74,763.01 L74.89,763.27 L76.03,763.51 L77.17,763.73 L78.32,763.95 L79.47,764.15 L80.61,764.34 L81.75,764.51 L82.90,764.68 L84.05,764.83 L85.19,764.97 L86.34,765.10 L87.48,765.22 L88.62,765.33 L89.77,765.43 L90.91,765.52 L92.06,765.60 L93.20,765.67 L94.35,765.73 L95.50,765.78 L96.64,765.83 L97.78,765.87 L98.93,765.89 L100.08,765.92 L101.22,765.93 L102.37,765.94 L103.51,765.94 L104.66,765.93 L105.80,765.92 L106.94,765.90 L108.09,765.88 L109.23,765.85 L110.38,765.81 L111.53,765.78 L112.67,765.73 L113.81,765.68 L114.96,765.63 L116.11,765.57 L117.25,765.51 L118.40,765.44 L119.54,765.37 L120.69,765.30 L121.83,765.22 L122.97,765.14 L124.12,765.06 L125.27,764.98 L126.41,764.89 L127.56,764.80 L128.70,764.71 L129.84,764.61 L130.99,764.52 L132.13,764.42 L133.28,764.32 L134.43,764.22 L135.57,764.12 L136.72,764.01 L137.86,763.91 L139.00,763.81 L140.15,763.70 L141.30,763.59 L142.44,763.49 L143.59,763.38 L144.73,763.27 L145.88,763.17 L147.02,763.06 L148.17,762.95 L149.31,762.85 L150.45,762.74 L151.60,762.63 L152.75,762.53 L153.89,762.43 L155.03,762.32 L156.18,762.22 L157.32,762.12 L158.47,762.02 L159.62,761.92 L160.76,761.82 L161.91,761.72 L163.05,761.62 L164.19,761.53 L165.34,761.44 L166.49,761.35 L167.63,761.26 L168.78,761.17 L169.92,761.08 L171.06,761.00 L172.21,760.92 L173.36,760.83 L174.50,760.76 L175.64,760.68 L176.79,760.60 L177.94,760.53 L179.08,760.46 L180.23,760.39 L181.37,760.33 L182.51,760.26 L183.66,760.20 L184.81,760.14 L185.95,760.09 L187.09,760.03 L188.24,759.98 L189.38,759.93 L190.53,759.88 L191.68,759.84 L192.82,759.80 L193.97,759.76 L195.11,759.72 L196.25,759.68 L197.40,759.65 L198.55,759.62 L199.69,759.59 L200.84,759.57 L201.98,759.55 L203.12,759.53 L204.27,759.51 L205.41,759.50 L206.56,759.48 L207.71,759.47 L208.85,759.47 L210.00,759.46 L211.14,759.46 L212.28,759.46 L213.43,759.46 L214.57,759.46 L215.72,759.47 L216.87,759.48 L218.01,759.49 L219.16,759.51 L220.30,759.52 L221.44,759.54 L222.59,759.56 L223.74,759.58 L224.88,759.61 L226.03,759.64 L227.17,759.67 L228.31,759.70 L229.46,759.73 L230.60,759.77 L231.75,759.80 L232.90,759.84 L234.04,759.88 L235.19,759.93 L236.33,759.97 L237.47,760.02 L238.62,760.06 L239.77,760.11 L240.91,760.17 L242.06,760.22 L243.20,760.27 L244.34,760.33 L245.49,760.39 L246.63,760.44 L247.78,760.50 L248.93,760.56 L250.07,760.63 L251.22,760.69 L252.36,760.75 L253.50,760.82 L254.65,760.89 L255.80,760.95 L256.94,761.02 L258.09,761.09 L259.23,761.16 L260.38,761.23 L261.52,761.30 L262.66,761.38 L263.81,761.45 L264.96,761.52 L266.10,761.59 L267.25,761.67 L268.39,761.74 L269.53,761.82 L270.68,761.89 L271.83,761.96 L272.97,762.04 L274.12,762.11 L275.26,762.19 L276.40,762.26 L277.55,762.34 L278.69,762.41 L279.84,762.48 L280.99,762.56 L282.13,762.63 L283.27,762.70 L284.42,762.77 L285.56,762.85 L286.71,762.92 L287.86,762.99 L289.00,763.05 L290.14,763.12 L291.29,763.19 L292.44,763.26 L293.58,763.32 L294.73,763.39 L295.87,763.45 L297.01,763.51 L298.16,763.57 L299.31,763.63 L300.45,763.69 L301.60,763.75 L302.74,763.80 L303.88,763.85 L305.03,763.91 L306.18,763.96 L307.32,764.00 L308.47,764.05 L309.61,764.10 L310.75,764.14 L311.90,764.18 L313.05,764.22 L314.19,764.26 L315.34,764.29 L316.48,764.33 L317.62,764.36 L318.77,764.39 L319.92,764.41 L321.06,764.44 L322.20,764.46 L323.35,764.48 L324.50,764.50 L325.64,764.51 L326.79,764.53 L327.93,764.54 L329.07,764.55 L330.22,764.55 L331.37,764.55 L332.51,764.55 L333.66,764.55 L334.80,764.55 L335.94,764.54 L337.09,764.53 L338.24,764.51 L339.38,764.50 L340.52,764.48 L341.67,764.46 L342.81,764.43 L343.96,764.40 L345.11,764.37 L346.25,764.34 L347.39,764.31 L348.54,764.27 L349.69,764.22 L350.83,764.18 L351.98,764.13 L353.12,764.08 L354.26,764.03 L355.41,763.97 L356.56,763.91 L357.70,763.85 L358.85,763.78 L359.99,763.72 L361.13,763.65 L362.28,763.57 L363.43,763.50 L364.57,763.42 L365.72,763.33 L366.86,763.25 L368.00,763.16 L369.15,763.07 L370.30,762.98 L371.44,762.88 L372.58,762.78 L373.73,762.68 L374.88,762.57 L376.02,762.47 L377.17,762.36 L378.31,762.25 L379.45,762.13 L380.60,762.01 L381.75,761.89 L382.89,761.77 L384.04,761.65 L385.18,761.52 L386.32,761.39 L387.47,761.26 L388.62,761.13 L389.76,761.00 L390.91,760.86 L392.05,760.72 L393.19,760.58 L394.34,760.44 L395.49,760.30 L396.63,760.15 L397.77,760.01 L398.92,759.86 L400.06,759.71 L401.21,759.56 L402.36,759.41 L403.50,759.26 L404.64,759.10 L405.79,758.95 L406.94,758.79 L408.08,758.64 L409.23,758.48 L410.37,758.33 L411.51,758.17 L412.66,758.02 L413.81,757.86 L414.95,757.70 L416.10,757.55 L417.24,757.39 L418.38,757.24 L419.53,757.08 L420.68,756.93 L421.82,756.78 L422.97,756.63 L424.11,756.48 L425.25,756.33 L426.40,756.18 L427.55,756.04 L428.69,755.90 L429.83,755.76 L430.98,755.62 L432.12,755.48 L433.27,755.35 L434.42,755.22 L435.56,755.09 L436.70,754.97 L437.85,754.85 L439.00,754.73 L440.14,754.62 L441.29,754.51 L442.43,754.40 L443.57,754.30 L444.72,754.21 L445.87,754.12 L447.01,754.03 L448.16,753.95 L449.30,753.88 L450.44,753.81 L451.59,753.74 L452.74,753.69 L453.88,753.64 L455.03,753.60 L456.17,753.56 L457.31,753.53 L458.46,753.51 L459.61,753.50 L460.75,753.50 L461.89,753.50 L463.04,753.51 L464.19,753.53 L465.33,753.57 L466.48,753.61 L467.62,753.66 L468.76,753.72 L469.91,753.79 L471.06,753.87 L472.20,753.97 L473.35,754.07 L474.49,754.19 L475.63,754.32 L476.78,754.46 L477.93,754.62 L479.07,754.79 L480.22,754.97 L481.36,755.16 L482.50,755.37 L483.65,755.60 L484.80,755.84 L485.94,756.09 L487.08,756.37 L488.23,756.65 L489.38,756.96 L490.52,757.28 L491.67,757.62 L492.81,757.97 L493.95,758.35 L495.10,758.74 L496.25,759.15 L497.39,759.58 L498.54,760.04 L499.68,760.51 L500.82,761.00 L501.97,761.51 L503.12,762.05 L504.26,762.61 L505.41,763.19 L506.55,763.79 L507.69,764.42 L508.84,765.07 L509.99,765.74 L511.13,766.44 L512.28,767.17 L513.42,767.92 L514.57,768.70 L515.71,769.51 L516.86,770.34 L518.00,771.20 " fill="none" stroke="#000" stroke-width="2.55" stroke-dasharray="0.2 5.54" stroke-linecap="round"/>
<path d="M563.5,626.90 H614.5" stroke="#000" stroke-width="2.85"/>
<text x="618" y="634.10" font-family="Liberation Serif, serif" font-size="22.6">P</text>
<path d="M564.8,664.30 H614.5" stroke="#000" stroke-width="2.85" stroke-dasharray="7.9 12.5" stroke-linecap="round"/>
<text x="618" y="671.50" font-family="Liberation Serif, serif" font-size="22.6">S</text>
<path d="M564.8,701.70 H613" stroke="#000" stroke-width="2.55" stroke-dasharray="0.2 5.54" stroke-linecap="round"/>
<text x="618" y="708.90" font-family="Liberation Serif, serif" font-size="22.6">Cl</text>
<text transform="translate(317,416) scale(1,1.08)" text-anchor="middle" font-family="Liberation Serif, serif" font-weight="bold" font-size="36">a</text>
<text transform="translate(316.5,885.7) scale(1,1.04)" text-anchor="middle" font-family="Liberation Serif, serif" font-weight="bold" font-size="36">b</text>
</svg></body></html>
